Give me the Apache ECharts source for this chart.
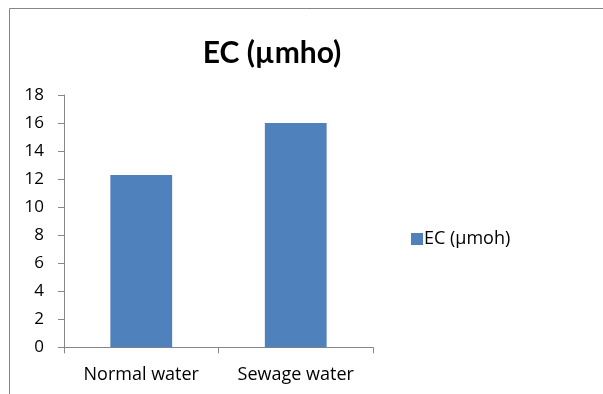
<!DOCTYPE html>
<html>
<head>
<meta charset="utf-8">
<script src="https://cdn.jsdelivr.net/npm/echarts@6/dist/echarts.min.js"></script>
<style>
  html, body { margin: 0; padding: 0; background: #fff; }
  #main { width: 603px; height: 394px; }
</style>
</head>
<body>
<div id="main"></div>
<script>
// data
const categories = ["Normal water", "Sewage water"];
const ecValues = [12.3, 16];
const seriesName = "EC (\u00b5moh)";
const titleText = "EC (\u00b5mho)";

const chart = echarts.init(document.getElementById("main"));
const axisGrey = "#868686";
const font = "'Open Sans', sans-serif";

chart.setOption({
  backgroundColor: "#fff",
  animation: false,
  title: {
    text: titleText,
    left: 267, top: 33, textAlign: "center",
    textStyle: { fontFamily: "Lato, sans-serif", fontSize: 30, fontWeight: "bold", color: "#000" }
  },
  legend: {
    left: 406, top: 225,
    itemWidth: 12, itemHeight: 12, itemGap: 5,
    icon: "rect",
    textStyle: { fontFamily: font, fontSize: 18, color: "#000", padding: [0, 0, 0, -4] },
    data: [seriesName]
  },
  grid: { left: 64, top: 95, width: 309, height: 252.3, containLabel: false },
  xAxis: {
    type: "category",
    data: categories,
    axisLine: { lineStyle: { color: axisGrey } },
    axisTick: { show: true, length: 6, alignWithLabel: false, lineStyle: { color: axisGrey } },
    axisLabel: { fontFamily: font, fontSize: 18, color: "#000", margin: 19 }
  },
  yAxis: {
    type: "value",
    min: 0, max: 18, interval: 2,
    axisLine: { show: true, lineStyle: { color: axisGrey } },
    axisTick: { show: true, length: 6, lineStyle: { color: axisGrey } },
    axisLabel: { fontFamily: font, fontSize: 17, color: "#000", margin: 20 },
    splitLine: { show: false }
  },
  series: [{
    name: seriesName,
    type: "bar",
    data: ecValues,
    barWidth: "40%",
    itemStyle: { color: "#4f81bd" }
  }],
  graphic: [{
    type: "polyline",
    shape: { points: [[9.5, 400], [9.5, 8.5], [610, 8.5]] },
    style: { stroke: "#868686", lineWidth: 1, fill: null }
  }]
});
</script>
</body>
</html>
